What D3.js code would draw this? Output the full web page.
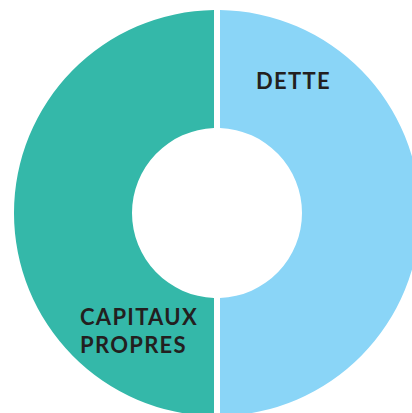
<!DOCTYPE html>
<html lang="fr">
<head>
    <meta charset="UTF-8">
    <title>Dette / Capitaux propres</title>
    <script src="https://d3js.org/d3.v7.min.js"></script>
    <style>
        html, body { margin: 0; padding: 0; background: #fff; overflow: hidden; }
        svg text { font-family: "Lato", sans-serif; font-weight: 700; fill: #231f20; letter-spacing: 1.3px; }
    </style>
</head>
<body>
    <div id="chart"></div>
    <script>
        const categories = ["Dette", "Capitaux propres"];
        const values = [50, 50];
        const labelLines = [["DETTE"], ["CAPITAUX", "PROPRES"]];
        const colors = ["#8ad5f7", "#34b8a9"];

        const w = 412;
        const h = 413;
        const cx = 217;
        const cy = 213;
        const outerR = 203;
        const innerR = 85;

        const svg = d3.select("#chart")
            .append("svg")
            .attr("width", w)
            .attr("height", h);

        const g = svg.append("g")
            .attr("transform", "translate(" + cx + "," + cy + ")");

        const pie = d3.pie().sort(null).value(d => d);
        const arcs = pie(values);

        const arc = d3.arc()
            .innerRadius(innerR)
            .outerRadius(outerR)
            .padAngle(6 / 150)
            .padRadius(150);

        g.selectAll("path")
            .data(arcs)
            .enter()
            .append("path")
            .attr("d", arc)
            .attr("fill", (d, i) => colors[i]);

        // label positions relative to the centre
        const labelPos = [[39, -124, "start"], [-137, 112, "start"]];

        g.selectAll("text.label")
            .data(arcs)
            .enter()
            .append("text")
            .attr("class", "label")
            .attr("x", (d, i) => labelPos[i][0])
            .attr("y", (d, i) => labelPos[i][1])
            .attr("text-anchor", (d, i) => labelPos[i][2])
            .style("font-size", "22px")
            .each(function(d, i) {
                const t = d3.select(this);
                labelLines[i].forEach((line, j) => {
                    t.append("tspan")
                        .attr("x", labelPos[i][0])
                        .attr("dy", j === 0 ? 0 : 28)
                        .text(line);
                });
            });
    </script>
</body>
</html>
